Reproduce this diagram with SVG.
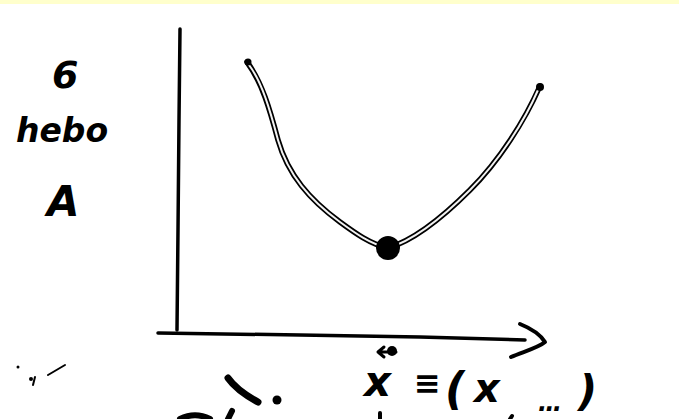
<svg xmlns="http://www.w3.org/2000/svg" width="679" height="419" viewBox="0 0 679 419">
<style>
.ink{fill:none;stroke:#000;stroke-linecap:round;stroke-linejoin:round}
.hand{font-family:"DejaVu Sans","Liberation Sans",sans-serif;font-weight:bold;font-style:italic;fill:#000}
</style>
<rect x="0" y="0" width="679" height="419" fill="#fff"/>
<rect x="0" y="0" width="679" height="4" fill="#ffffcc"/>
<g id="axes">
<path class="ink" d="M180,29 L179,120 L178,230 L177,330" stroke-width="3.5"/>
<path class="ink" d="M158,333 L300,335 L420,337 L525,340" stroke-width="3.5"/>
<path class="ink" d="M520,324 C530,328 540,334 545,342 C538,348 522,352 511,357" stroke-width="4"/>
</g>
<g id="curve">
<path class="ink" d="M247,62 C262,82 270,110 278,140 C288,175 310,200 340,222 C355,233 370,244 388,248 C415,240 445,215 470,190 C500,160 525,120 540,86" stroke-width="5.5"/>
<path fill="none" stroke="#f2f2f2" stroke-width="2" stroke-linecap="round" d="M249,65 C262,82 270,110 278,140 C288,175 310,200 340,222 C355,233 370,244 388,248 C415,240 445,215 470,190 C500,160 525,120 538,90"/>
<circle cx="388" cy="248" r="12" fill="#000"/>
<circle cx="540" cy="87" r="4" fill="#000"/>
<circle cx="248" cy="62" r="3.5" fill="#000"/>
</g>
<g id="ylabel">
<text class="hand" x="52" y="88" font-size="38">6</text>
<text class="hand" x="16" y="142" font-size="33">hebo</text>
<text class="hand" x="47" y="216" font-size="42">A</text>
</g>
<g id="xlabel">
<path class="ink" d="M378,352 L396,352 M378,352 L384,347 M378,352 L384,357" stroke-width="3"/>
<circle cx="392" cy="351" r="5" fill="#000"/>
<text class="hand" x="364" y="396" font-size="42">x</text>
<text class="hand" x="414" y="394" font-size="32">≡</text>
<text class="hand" x="445" y="404" font-size="44">(</text>
<text class="hand" x="474" y="402" font-size="40">x</text>
<text class="hand" x="538" y="411" font-size="24">…</text>
<text class="hand" x="578" y="406" font-size="42">)</text>
</g>
<g id="scribbles">
<path class="ink" d="M48,375 L65,365" stroke-width="2"/>
<path class="ink" d="M35,377 L33,385" stroke-width="2"/>
<circle cx="18" cy="367" r="1.5"/>
<circle cx="31" cy="379" r="2"/>
<path class="ink" d="M228,378 C235,388 245,395 258,402" stroke-width="7"/>
<circle cx="277" cy="400" r="4.5"/>
<path class="ink" d="M180,419 C190,414 200,414 210,419" stroke-width="6"/>
<path class="ink" d="M232,411 L228,419" stroke-width="6"/>
<path class="ink" d="M380,413 L380,419" stroke-width="4"/>
<path class="ink" d="M512,416 L510,419" stroke-width="4"/>
</g>
</svg>
